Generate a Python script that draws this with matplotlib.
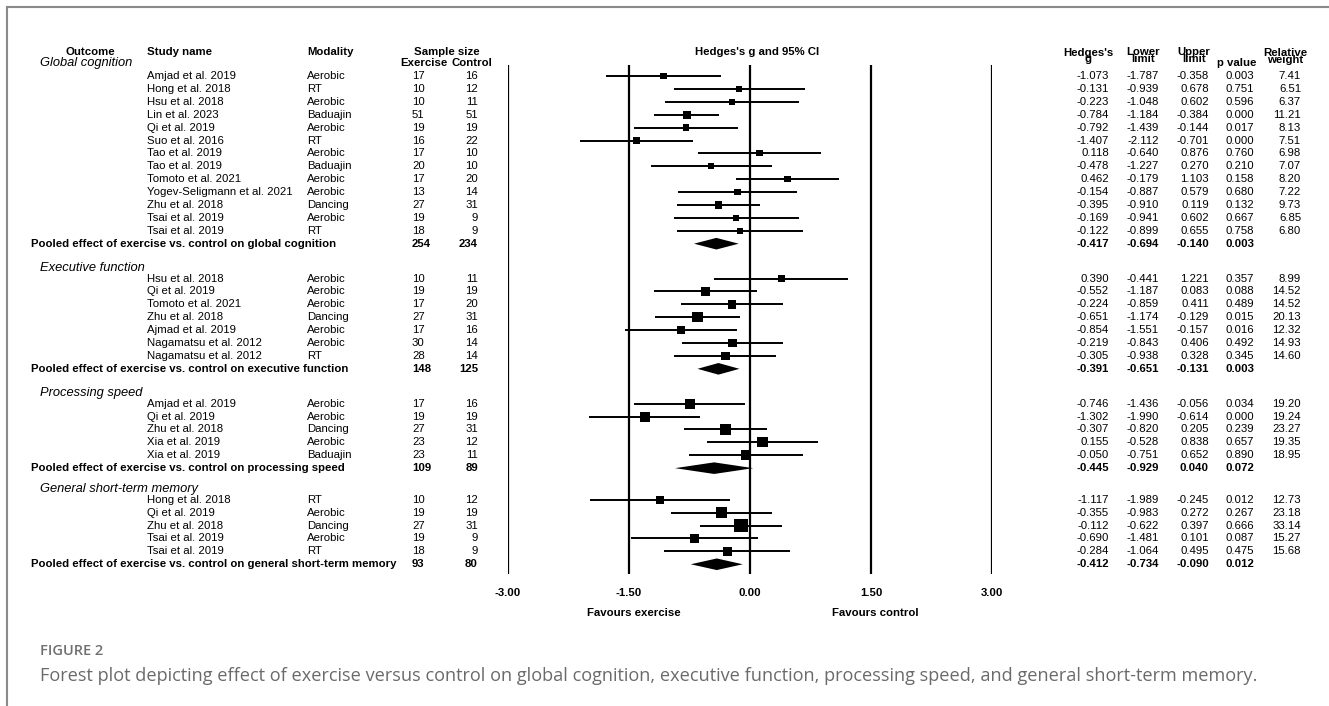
import matplotlib.pyplot as plt
import numpy as np
from matplotlib.transforms import blended_transform_factory
from matplotlib.lines import Line2D

plt.rcParams['font.family'] = ['Liberation Sans', 'DejaVu Sans']

outcomes = ['Global cognition', 'Executive function', 'Processing speed',
            'General short-term memory']
n_studies = [13, 7, 5, 5]

study_names = [
    'Amjad et al. 2019', 'Hong et al. 2018', 'Hsu et al. 2018', 'Lin et al. 2023',
    'Qi et al. 2019', 'Suo et al. 2016', 'Tao et al. 2019', 'Tao et al. 2019',
    'Tomoto et al. 2021', 'Yogev-Seligmann et al. 2021', 'Zhu et al. 2018',
    'Tsai et al. 2019', 'Tsai et al. 2019',
    'Hsu et al. 2018', 'Qi et al. 2019', 'Tomoto et al. 2021', 'Zhu et al. 2018',
    'Ajmad et al. 2019', 'Nagamatsu et al. 2012', 'Nagamatsu et al. 2012',
    'Amjad et al. 2019', 'Qi et al. 2019', 'Zhu et al. 2018', 'Xia et al. 2019',
    'Xia et al. 2019',
    'Hong et al. 2018', 'Qi et al. 2019', 'Zhu et al. 2018', 'Tsai et al. 2019',
    'Tsai et al. 2019',
]
modality = [
    'Aerobic', 'RT', 'Aerobic', 'Baduajin', 'Aerobic', 'RT', 'Aerobic', 'Baduajin',
    'Aerobic', 'Aerobic', 'Dancing', 'Aerobic', 'RT',
    'Aerobic', 'Aerobic', 'Aerobic', 'Dancing', 'Aerobic', 'Aerobic', 'RT',
    'Aerobic', 'Aerobic', 'Dancing', 'Aerobic', 'Baduajin',
    'RT', 'Aerobic', 'Dancing', 'Aerobic', 'RT',
]
n_exercise = [17, 10, 10, 51, 19, 16, 17, 20, 17, 13, 27, 19, 18,
              10, 19, 17, 27, 17, 30, 28,
              17, 19, 27, 23, 23,
              10, 19, 27, 19, 18]
n_control = [16, 12, 11, 51, 19, 22, 10, 10, 20, 14, 31, 9, 9,
             11, 19, 20, 31, 16, 14, 14,
             16, 19, 31, 12, 11,
             12, 19, 31, 9, 9]
hedges_g = [-1.073, -0.131, -0.223, -0.784, -0.792, -1.407, 0.118, -0.478,
            0.462, -0.154, -0.395, -0.169, -0.122,
            0.390, -0.552, -0.224, -0.651, -0.854, -0.219, -0.305,
            -0.746, -1.302, -0.307, 0.155, -0.050,
            -1.117, -0.355, -0.112, -0.690, -0.284]
ci_lower = [-1.787, -0.939, -1.048, -1.184, -1.439, -2.112, -0.640, -1.227,
            -0.179, -0.887, -0.910, -0.941, -0.899,
            -0.441, -1.187, -0.859, -1.174, -1.551, -0.843, -0.938,
            -1.436, -1.990, -0.820, -0.528, -0.751,
            -1.989, -0.983, -0.622, -1.481, -1.064]
ci_upper = [-0.358, 0.678, 0.602, -0.384, -0.144, -0.701, 0.876, 0.270,
            1.103, 0.579, 0.119, 0.602, 0.655,
            1.221, 0.083, 0.411, -0.129, -0.157, 0.406, 0.328,
            -0.056, -0.614, 0.205, 0.838, 0.652,
            -0.245, 0.272, 0.397, 0.101, 0.495]
p_values = [0.003, 0.751, 0.596, 0.000, 0.017, 0.000, 0.760, 0.210,
            0.158, 0.680, 0.132, 0.667, 0.758,
            0.357, 0.088, 0.489, 0.015, 0.016, 0.492, 0.345,
            0.034, 0.000, 0.239, 0.657, 0.890,
            0.012, 0.267, 0.666, 0.087, 0.475]
rel_weight = [7.41, 6.51, 6.37, 11.21, 8.13, 7.51, 6.98, 7.07, 8.20, 7.22, 9.73,
              6.85, 6.80,
              8.99, 14.52, 14.52, 20.13, 12.32, 14.93, 14.60,
              19.20, 19.24, 23.27, 19.35, 18.95,
              12.73, 23.18, 33.14, 15.27, 15.68]

pooled_n_exercise = [254, 148, 109, 93]
pooled_n_control = [234, 125, 89, 80]
pooled_g = [-0.417, -0.391, -0.445, -0.412]
pooled_lower = [-0.694, -0.651, -0.929, -0.734]
pooled_upper = [-0.140, -0.131, 0.040, -0.090]
pooled_p = [0.003, 0.003, 0.072, 0.012]

ticks = [-3.0, -1.5, 0.0, 1.5, 3.0]

# row positions (one unit = one table line)
gaps = [2.7, 2.7, 2.45]
rows, pooled_rows, label_rows = [], [], []
y = 0.0
for k, n in enumerate(n_studies):
    if k > 0:
        y = pooled_rows[-1] + gaps[k - 1]
    label_rows.append(y - (1.0 if k == 0 else 0.83))
    rows.extend(y + np.arange(n))
    pooled_rows.append(y + n)

W, H = 1329, 706
fig = plt.figure(figsize=(W / 100, H / 100), dpi=100)


def px(x):
    return x / W


# forest panel
ax = fig.add_axes([px(508), 1 - 574 / H, px(992 - 508), (574 - 65) / H])
ax.set_xlim(-3, 3)
ax.set_ylim((574 - 76) / 12.9, (65 - 76) / 12.9)
for s in ax.spines.values():
    s.set_visible(False)
ax.set_yticks([])
ax.set_xticks(ticks)
ax.set_xticklabels(['%.2f' % t for t in ticks], fontweight='bold', fontsize=8.2)
ax.tick_params(axis='x', length=0, pad=10)

for t in ticks:
    ax.axvline(t, color='black', lw=1.6, zorder=1)

ax.hlines(rows, ci_lower, ci_upper, color='black', lw=1.4, zorder=2)
side = 2.3 * np.sqrt(rel_weight) * 0.72
ax.scatter(hedges_g, rows, marker='s', s=side ** 2, c='black', zorder=3,
           linewidths=0)
for k in range(len(outcomes)):
    r = pooled_rows[k]
    ax.fill([pooled_lower[k], pooled_g[k], pooled_upper[k], pooled_g[k]],
            [r, r - 0.45, r, r + 0.45], color='black', zorder=3, lw=0)

ax.text(-1.44, 41.6, 'Favours exercise', ha='center', va='center',
        fontsize=8.2, fontweight='bold')
ax.text(1.55, 41.6, 'Favours control', ha='center', va='center',
        fontsize=8.2, fontweight='bold')

tr = blended_transform_factory(fig.transFigure, ax.transData)
fs = 8.2


def put(x, yy, s, ha='left', **kw):
    ax.text(px(x), yy, s, transform=tr, ha=ha, va='center', fontsize=kw.pop('size', fs),
            clip_on=False, **kw)


# headers
h1, h2 = -1.86, -1.0
put(90, h1, 'Outcome', ha='center', fontweight='bold')
put(147, h1, 'Study name', fontweight='bold')
put(307, h1, 'Modality', fontweight='bold')
put(447, h1, 'Sample size', ha='center', fontweight='bold')
put(424, h2, 'Exercise', ha='center', fontweight='bold')
put(472, h2, 'Control', ha='center', fontweight='bold')
put(757, h1, "Hedges's g and 95% CI", ha='center', fontweight='bold')
put(1088, -1.55, "Hedges's\ng", ha='center', fontweight='bold', linespacing=0.62)
put(1143, -1.58, 'Lower\nlimit', ha='center', fontweight='bold', linespacing=0.62)
put(1194, -1.58, 'Upper\nlimit', ha='center', fontweight='bold', linespacing=0.62)
put(1237, h2, 'p value', ha='center', fontweight='bold')
put(1285, -1.52, 'Relative\nweight', ha='center', fontweight='bold', linespacing=0.7)

# study rows
for i, r in enumerate(rows):
    put(147, r, study_names[i])
    put(307, r, modality[i])
    put(412, r, str(n_exercise[i]))
    put(478, r, str(n_control[i]), ha='right')
    put(1109, r, '%.3f' % hedges_g[i], ha='right')
    put(1159, r, '%.3f' % ci_lower[i], ha='right')
    put(1209, r, '%.3f' % ci_upper[i], ha='right')
    put(1254, r, '%.3f' % p_values[i], ha='right')
    put(1301, r, '%.2f' % rel_weight[i], ha='right')

# section labels and pooled rows
for k, name in enumerate(outcomes):
    put(40, label_rows[k], name, style='italic', size=9.3)
    r = pooled_rows[k]
    put(31, r, 'Pooled effect of exercise vs. control on ' + name[0].lower() + name[1:],
        fontweight='bold')
    put(412, r, str(pooled_n_exercise[k]), fontweight='bold')
    put(478, r, str(pooled_n_control[k]), ha='right', fontweight='bold')
    put(1109, r, '%.3f' % pooled_g[k], ha='right', fontweight='bold')
    put(1159, r, '%.3f' % pooled_lower[k], ha='right', fontweight='bold')
    put(1209, r, '%.3f' % pooled_upper[k], ha='right', fontweight='bold')
    put(1254, r, '%.3f' % pooled_p[k], ha='right', fontweight='bold')

# frame and caption
fig.add_artist(Line2D([px(7), 1], [1 - 7 / H, 1 - 7 / H], color='#8a8a8a', lw=1.5))
fig.add_artist(Line2D([px(7), px(7)], [0, 1 - 7 / H], color='#8a8a8a', lw=1.5))
fig.text(px(40), 1 - 651 / H, 'FIGURE 2', family='Open Sans', fontsize=10.5,
         fontweight='semibold', color='#707070', va='center')
fig.text(px(40), 1 - 676 / H,
         'Forest plot depicting effect of exercise versus control on global cognition, '
         'executive function, processing speed, and general short-term memory.',
         family='Open Sans', fontsize=13.1, color='#6a6a6a', va='center')

fig.savefig('out.png', dpi=100)
